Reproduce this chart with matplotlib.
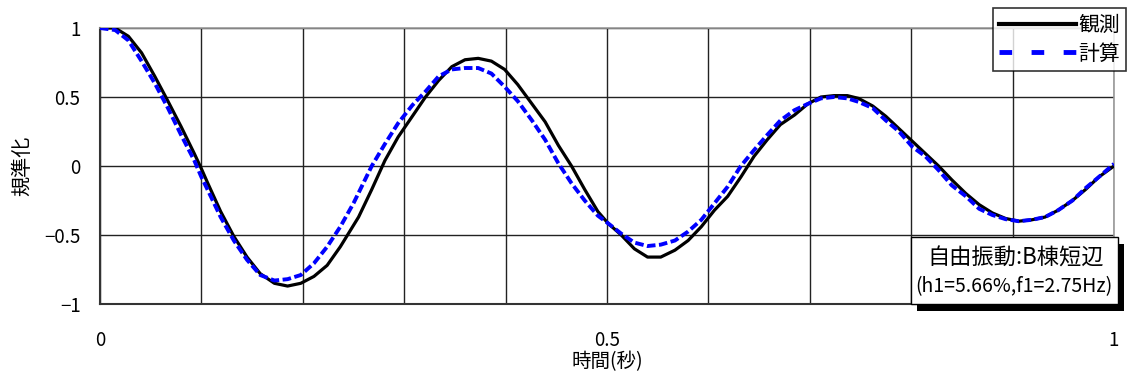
import matplotlib
matplotlib.use("Agg")
import matplotlib.pyplot as plt
from matplotlib.patches import Rectangle
from matplotlib.lines import Line2D

plt.rcParams['font.family'] = ['Noto Sans CJK JP', 'DejaVu Sans']
plt.rcParams['axes.unicode_minus'] = True

# ---- data ----
t_obs = [0.000, 0.015, 0.028, 0.041, 0.054, 0.067, 0.080, 0.093, 0.100, 0.106,
         0.119, 0.132, 0.145, 0.158, 0.172, 0.185, 0.198, 0.211, 0.224, 0.237,
         0.255, 0.268, 0.281, 0.294, 0.308, 0.321, 0.334, 0.347, 0.360, 0.373,
         0.386, 0.399, 0.412, 0.426, 0.439, 0.452, 0.465, 0.478, 0.491, 0.501,
         0.514, 0.527, 0.540, 0.553, 0.567, 0.580, 0.593, 0.606, 0.619, 0.632,
         0.645, 0.658, 0.671, 0.685, 0.698, 0.711, 0.724, 0.737, 0.748, 0.762,
         0.775, 0.788, 0.801, 0.814, 0.827, 0.840, 0.854, 0.867, 0.880, 0.893,
         0.906, 0.919, 0.932, 0.945, 0.959, 0.972, 0.985, 1.000]
y_obs = [1.00, 1.00, 0.94, 0.82, 0.65, 0.47, 0.285, 0.09, -0.02, -0.12,
         -0.33, -0.51, -0.66, -0.78, -0.85, -0.87, -0.85, -0.80, -0.72, -0.585,
         -0.37, -0.17, 0.04, 0.21, 0.36, 0.50, 0.62, 0.72, 0.77, 0.78,
         0.76, 0.70, 0.59, 0.45, 0.32, 0.15, 0.00, -0.17, -0.33, -0.415,
         -0.50, -0.60, -0.66, -0.66, -0.61, -0.54, -0.44, -0.32, -0.22, -0.08,
         0.07, 0.19, 0.30, 0.37, 0.45, 0.50, 0.51, 0.51, 0.49, 0.435,
         0.36, 0.27, 0.18, 0.09, 0.00, -0.10, -0.20, -0.28, -0.34, -0.38,
         -0.40, -0.39, -0.37, -0.32, -0.25, -0.17, -0.08, 0.00]

t_calc = [0.000, 0.015, 0.028, 0.041, 0.054, 0.067, 0.080, 0.093, 0.100, 0.106,
          0.119, 0.132, 0.145, 0.158, 0.172, 0.185, 0.198, 0.211, 0.224, 0.237,
          0.250, 0.268, 0.281, 0.294, 0.308, 0.321, 0.334, 0.347, 0.360, 0.373,
          0.386, 0.399, 0.412, 0.426, 0.439, 0.452, 0.465, 0.478, 0.491, 0.501,
          0.514, 0.527, 0.540, 0.553, 0.567, 0.580, 0.593, 0.606, 0.619, 0.632,
          0.645, 0.658, 0.671, 0.685, 0.698, 0.711, 0.724, 0.737, 0.748, 0.762,
          0.775, 0.788, 0.801, 0.814, 0.827, 0.840, 0.854, 0.867, 0.880, 0.893,
          0.906, 0.919, 0.932, 0.945, 0.959, 0.972, 0.985, 1.000]
y_calc = [1.00, 0.985, 0.91, 0.76, 0.60, 0.42, 0.225, 0.04, -0.08, -0.17,
          -0.37, -0.54, -0.68, -0.79, -0.83, -0.82, -0.79, -0.705, -0.585, -0.44,
          -0.27, 0.00, 0.16, 0.31, 0.44, 0.54, 0.65, 0.70, 0.71, 0.71,
          0.67, 0.575, 0.47, 0.33, 0.19, 0.02, -0.125, -0.25, -0.36, -0.415,
          -0.49, -0.555, -0.58, -0.57, -0.54, -0.475, -0.39, -0.27, -0.15, 0.00,
          0.115, 0.225, 0.33, 0.405, 0.45, 0.49, 0.50, 0.49, 0.465, 0.42,
          0.33, 0.25, 0.14, 0.07, -0.03, -0.14, -0.22, -0.31, -0.355, -0.385,
          -0.40, -0.39, -0.37, -0.32, -0.25, -0.16, -0.08, 0.015]

series_labels = ['観測', '計算']
x_ticks = [0.0, 0.1, 0.2, 0.3, 0.4, 0.5, 0.6, 0.7, 0.8, 0.9, 1.0]
x_tick_labels = ['0', '', '', '', '', '0.5', '', '', '', '', '1']
y_ticks = [-1.0, -0.5, 0.0, 0.5, 1.0]
y_tick_labels = ['\u22121', '\u22120.5', '0', '0.5', '1']
x_label = '時間(秒)'
y_label = '規準化'
note_line1 = '自由振動:B棟短辺'
note_line2 = '(h1=5.66%,f1=2.75Hz)'

# ---- figure ----
W, H = 1128, 376
fig = plt.figure(figsize=(W / 100, H / 100), dpi=100)
ax = fig.add_axes([100 / W, 1 - 304 / H, (1114 - 100) / W, (304 - 28) / H])

ax.plot(t_obs, y_obs, color='black', lw=2.3, solid_joinstyle='round', zorder=3)
ax.plot(t_calc, y_calc, color='#0000FF', lw=2.8, dashes=(2.2, 0.9), zorder=4)

ax.set_xlim(0, 1)
ax.set_ylim(-1, 1)
ax.set_xticks(x_ticks)
ax.set_xticklabels(x_tick_labels, fontsize=13.5)
ax.set_yticks(y_ticks)
ax.set_yticklabels(y_tick_labels, fontsize=13.5)
ax.tick_params(axis='both', length=0)
ax.tick_params(axis='x', pad=19)
ax.tick_params(axis='y', pad=14)
ax.grid(True, color='#222222', lw=1.0)
ax.set_axisbelow(True)
for s in ['top', 'right']:
    ax.spines[s].set_color('#999999')
    ax.spines[s].set_linewidth(1.2)
for s in ['left', 'bottom']:
    ax.spines[s].set_color('#333333')
    ax.spines[s].set_linewidth(1.5)

ax.set_xlabel(x_label, fontsize=14, labelpad=0)
ax.set_ylabel(y_label, fontsize=14.5, labelpad=8)

# legend
handles = [Line2D([], [], color='black', lw=3),
           Line2D([], [], color='#0000FF', lw=3.5, dashes=(2.6, 4.0))]
leg = fig.legend(handles, series_labels, loc='upper right',
                 bbox_to_anchor=(1126 / W, 1 - 8 / H), fontsize=15,
                 frameon=True, fancybox=False, handlelength=3.7,
                 handletextpad=0.1, borderpad=0.3, labelspacing=0.3,
                 borderaxespad=0)
leg.get_frame().set_edgecolor('black')
leg.get_frame().set_linewidth(1.2)

# annotation box with shadow
bx0, bx1, by0, by1 = 911, 1118, 237, 304
shadow = Rectangle(((bx0 + 6) / W, 1 - (by1 + 7) / H), (bx1 - bx0) / W, (by1 - by0) / H,
                   transform=fig.transFigure, facecolor='black', edgecolor='none', zorder=5)
box = Rectangle((bx0 / W, 1 - by1 / H), (bx1 - bx0) / W, (by1 - by0) / H,
                transform=fig.transFigure, facecolor='white', edgecolor='black',
                lw=1.0, zorder=6)
fig.patches.extend([shadow, box])
fig.text(1016 / W, 1 - 258 / H, note_line1, fontsize=16, ha='center', va='center', zorder=7)
fig.text(1014 / W, 1 - 287 / H, note_line2, fontsize=14, ha='center', va='center', zorder=7)

fig.savefig('out.png', dpi=100)
